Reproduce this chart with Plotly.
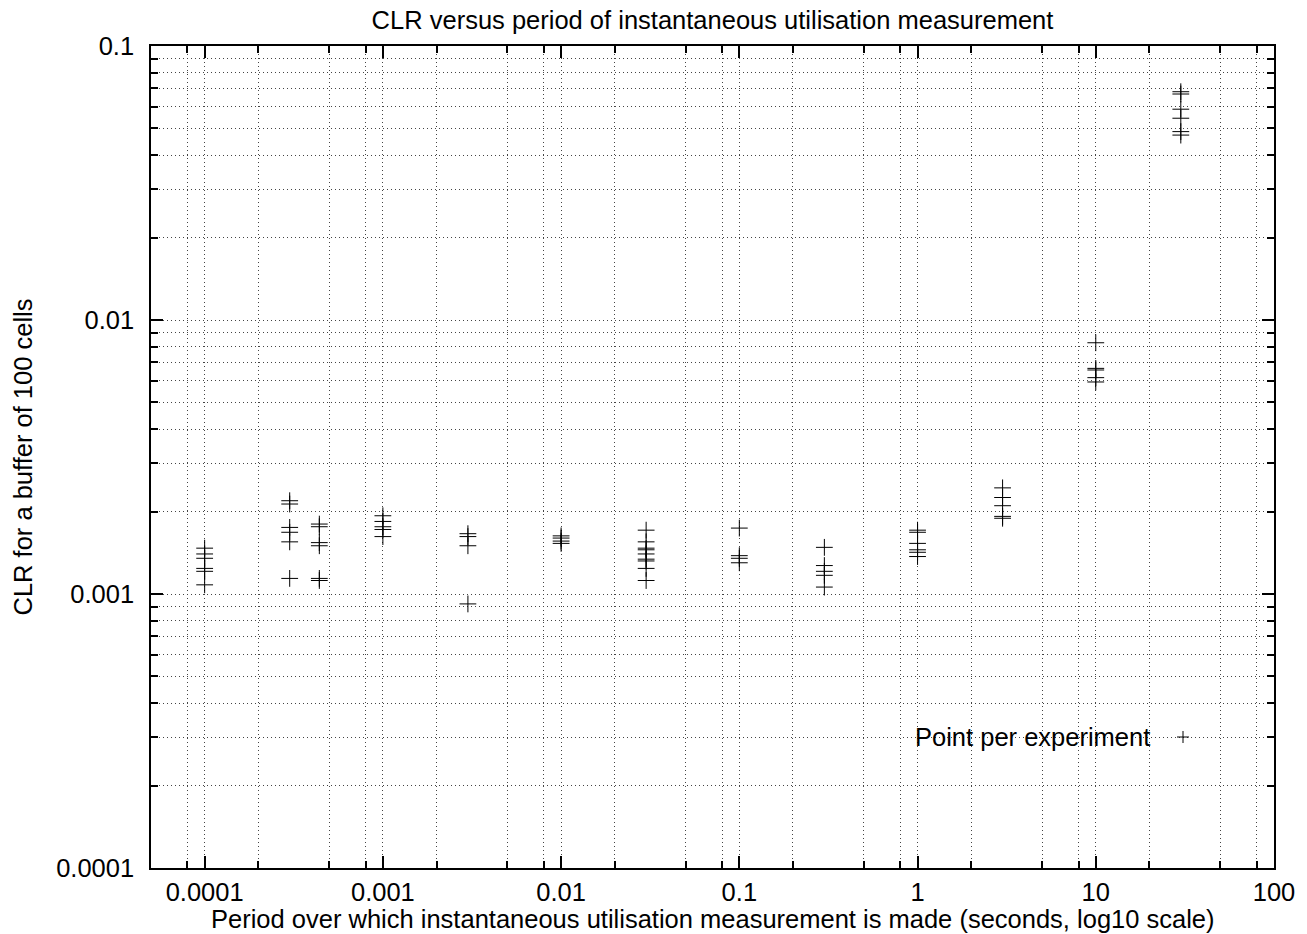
import plotly.graph_objects as go

# ---- data ----
periods = [0.0001, 0.0003, 0.00044, 0.001, 0.003, 0.01, 0.03, 0.1, 0.3, 1, 3, 10, 30]
clr_0001 = [0.00147, 0.00140, 0.00135, 0.00124, 0.00121, 0.00108]
clr_0003 = [0.00219, 0.00213, 0.00175, 0.00168, 0.00155, 0.00114]
clr_00044 = [0.00180, 0.00176, 0.00154, 0.00150, 0.00114, 0.00112]
clr_001 = [0.00193, 0.00184, 0.00176, 0.00172, 0.00162]
clr_003 = [0.00166, 0.00162, 0.00150, 0.00092]
clr_01 = [0.00163, 0.00160, 0.00156, 0.00153]
clr_03 = [0.00171, 0.00155, 0.00147, 0.00145, 0.00140, 0.00134, 0.00132, 0.00124, 0.00112]
clr_1 = [0.00174, 0.00138, 0.00135, 0.00130]
clr_3 = [0.00148, 0.00127, 0.00121, 0.00117, 0.00106]
clr_10 = [0.00171, 0.00168, 0.00153, 0.00145, 0.00142, 0.00137]
clr_30 = [0.00244, 0.00225, 0.00210, 0.00192, 0.00189]
clr_100 = [0.00826, 0.00666, 0.00657, 0.00616, 0.00594]
clr_300 = [0.0681, 0.0668, 0.0588, 0.0545, 0.0487, 0.0473]
clr_groups = [clr_0001, clr_0003, clr_00044, clr_001, clr_003, clr_01, clr_03,
              clr_1, clr_3, clr_10, clr_30, clr_100, clr_300]

x_major = [0.0001, 0.001, 0.01, 0.1, 1, 10, 100]
x_major_text = ["0.0001", "0.001", "0.01", "0.1", "1", "10", "100"]
y_major = [0.0001, 0.001, 0.01, 0.1]
y_major_text = ["0.0001", "0.001", "0.01", "0.1"]
x_minor = [m * 10.0 ** e for e in range(-5, 2) for m in (2, 5, 8)]
y_minor = [m * 10.0 ** e for e in range(-4, -1) for m in range(2, 10)]

title_text = "CLR versus period of instantaneous utilisation measurement"
x_title = "Period over which instantaneous utilisation measurement is made (seconds, log10 scale)"
y_title = "CLR for a buffer of 100 cells"
legend_text = "Point per experiment"

xs, ys = [], []
for p, g in zip(periods, clr_groups):
    for v in g:
        xs.append(p)
        ys.append(v)

FONT = "Liberation Sans, Arial, Helvetica, sans-serif"
FS = 25.5
GRID = "#444444"

fig = go.Figure()
fig.add_trace(go.Scatter(
    x=xs, y=ys, mode="markers", name=legend_text, showlegend=False,
    marker=dict(symbol="cross-thin", size=12, color="black",
                line=dict(color="black", width=1)),
))

axis_common = dict(
    type="log", showline=True, linecolor="black", linewidth=1.5, mirror="allticks",
    ticks="inside", ticklen=12, tickwidth=1.5, tickcolor="black",
    showgrid=True, gridcolor=GRID, gridwidth=1, griddash="1px,3px",
    zeroline=False, tickfont=dict(family=FONT, size=FS, color="black"),
    automargin=False,
)

fig.update_xaxes(
    **axis_common, range=[-4.30103, 2], tickmode="array",
    tickvals=x_major, ticktext=x_major_text, ticklabelstandoff=1,
    minor=dict(tickmode="array", tickvals=x_minor, ticks="inside", ticklen=7,
               tickwidth=1.5, tickcolor="black", showgrid=True, gridcolor=GRID,
               gridwidth=1, griddash="1px,3px"),
)
fig.update_yaxes(
    **axis_common, range=[-4, -1], tickmode="array",
    tickvals=y_major, ticktext=y_major_text, ticklabelstandoff=10,
    minor=dict(tickmode="array", tickvals=y_minor, ticks="inside", ticklen=7,
               tickwidth=1.5, tickcolor="black", showgrid=True, gridcolor=GRID,
               gridwidth=1, griddash="1px,3px"),
    title=dict(text=y_title, font=dict(family=FONT, size=FS, color="black"), standoff=16),
)

W, H = 1307, 934
L, R, T, B = 151, 33, 46, 66
pw, ph = W - L - R, H - T - B

# x-axis title placed just under the tick labels, as in the reference
fig.add_annotation(x=0.5, y=-(919 - (H - B)) / ph, xref="paper", yref="paper",
                   text=x_title, showarrow=False, xanchor="center", yanchor="middle",
                   font=dict(family=FONT, size=FS, color="black"))

# legend (gnuplot style: text then sample)
lx, ly = (1183 - L) / pw, (H - B - 737) / ph
dx, dy = 6 / pw, 6 / ph
fig.add_annotation(x=(1152 - L) / pw, y=ly, xref="paper", yref="paper",
                   text=legend_text, showarrow=False, xanchor="right", yanchor="middle",
                   font=dict(family=FONT, size=FS, color="black"))
fig.add_shape(type="line", xref="paper", yref="paper", x0=lx - dx, x1=lx + dx, y0=ly, y1=ly,
              line=dict(color="black", width=1))
fig.add_shape(type="line", xref="paper", yref="paper", x0=lx, x1=lx, y0=ly - dy, y1=ly + dy,
              line=dict(color="black", width=1))

fig.update_layout(
    width=W, height=H, margin=dict(l=L, r=R, t=T, b=B, autoexpand=False),
    paper_bgcolor="white", plot_bgcolor="white",
    title=dict(text=title_text, x=(L + pw / 2) / W, xanchor="center", y=1 - 20 / H,
               yanchor="middle", font=dict(family=FONT, size=FS, color="black")),
    font=dict(family=FONT, color="black"),
)

fig.write_html("out.html")
